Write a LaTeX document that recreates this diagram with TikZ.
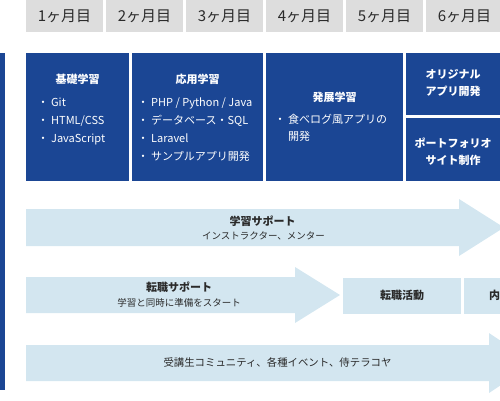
\documentclass[tikz,border=0pt]{standalone}
\usepackage{fontspec}
\setmainfont{Noto Sans CJK JP}
\definecolor{navy}{HTML}{1B4694}
\definecolor{pale}{HTML}{D3E6F0}
\definecolor{hdrgray}{HTML}{DDDDDD}
\definecolor{ink}{HTML}{2A2A2A}
\tikzset{
  hdrcell/.style={fill=hdrgray,minimum width=77pt,minimum height=32pt,inner sep=0pt,text=ink,font=\fontsize{15}{15}\selectfont},
  ttl/.style={text=white,inner sep=0pt,font=\fontsize{11}{11}\selectfont\bfseries,text height=0.88em,text depth=0.12em},
  bul/.style={text=white,inner sep=0pt,anchor=west,font=\fontsize{11}{11}\selectfont,text height=0.88em,text depth=0.12em},
  rowttl/.style={text=ink,inner sep=0pt,font=\fontsize{11}{11}\selectfont\bfseries,text height=0.88em,text depth=0.12em},
  rowsub/.style={text=ink,inner sep=0pt,font=\fontsize{9.5}{9.5}\selectfont,text height=0.88em,text depth=0.12em},
  navybox/.style={fill=navy},
  palebox/.style={fill=pale}
}
\begin{document}
\begin{tikzpicture}[x=1pt,y=-1pt]
\useasboundingbox (0,0) rectangle (500,400);
\clip (0,0) rectangle (500,400);
% header
\node[hdrcell] (m1) at (64.5,16) {1ヶ月目};
\node[hdrcell] (m2) at (144.5,16) {2ヶ月目};
\node[hdrcell] (m3) at (224.5,16) {3ヶ月目};
\node[hdrcell] (m4) at (304.5,16) {4ヶ月目};
\node[hdrcell] (m5) at (384.5,16) {5ヶ月目};
\node[hdrcell] (m6) at (464.5,16) {6ヶ月目};
% left bar
\fill[navybox] (0,53) rectangle (5,390);
% blue boxes
\fill[navybox] (26,53) rectangle (129,181);
\fill[navybox] (132,53) rectangle (263,181);
\fill[navybox] (266,53) rectangle (403,181);
\fill[navybox] (406,53) rectangle (500,115);
\fill[navybox] (406,118) rectangle (500,181);
% box 1
\node[ttl] (t1) at (77.5,80) {基礎学習};
\node[bul] (b11) at (37.5,103) {・ Git};
\node[bul] (b12) at (37.5,121) {・ HTML/CSS};
\node[bul] (b13) at (37.5,139) {・ JavaScript};
% box 2
\node[ttl] (t2) at (197.5,80) {応用学習};
\node[bul] (b21) at (137.5,103) {・ PHP / Python / Java};
\node[bul] (b22) at (137.5,121) {・ データベース・SQL};
\node[bul] (b23) at (137.5,139) {・ Laravel};
\node[bul] (b24) at (137.5,157) {・ サンプルアプリ開発};
% box 3
\node[ttl] (t3) at (334.5,98) {発展学習};
\node[bul] (b31) at (274.5,120) {・ 食べログ風アプリの};
\node[bul] (b32) at (288,137) {開発};
% box 4
\node[ttl] (t4a) at (453,75) {オリジナル};
\node[ttl] (t4b) at (453,92) {アプリ開発};
\node[ttl] (t5a) at (453,144) {ポートフォリオ};
\node[ttl] (t5b) at (453,161) {サイト制作};
% row 1 arrow
\fill[palebox] (26,209) -- (459,209) -- (459,199) -- (504,227.5) -- (459,256) -- (459,246) -- (26,246) -- cycle;
\node[rowttl] (r1a) at (262.5,222) {学習サポート};
\node[rowsub] (r1b) at (263.5,236) {インストラクター、メンター};
% row 2 arrow
\fill[palebox] (26,277) -- (295,277) -- (295,267) -- (340,295) -- (295,323) -- (295,313) -- (26,313) -- cycle;
\node[rowttl] (r2a) at (179,288) {転職サポート};
\node[rowsub] (r2b) at (179,303) {学習と同時に準備をスタート};
\fill[palebox] (343,278) rectangle (461,314);
\node[rowttl] (r2c) at (402,296) {転職活動};
\fill[palebox] (464,278) rectangle (500,314);
\node[rowttl,anchor=west] (r2d) at (489,296) {内};
% row 3 arrow
\fill[palebox] (26,345) -- (489,345) -- (489,333) -- (534,363) -- (489,393) -- (489,381) -- (26,381) -- cycle;
\node[rowsub,font=\fontsize{10.4}{10.4}\selectfont] (r3) at (277.5,363) {受講生コミュニティ、各種イベント、侍テラコヤ};
\end{tikzpicture}
\end{document}
